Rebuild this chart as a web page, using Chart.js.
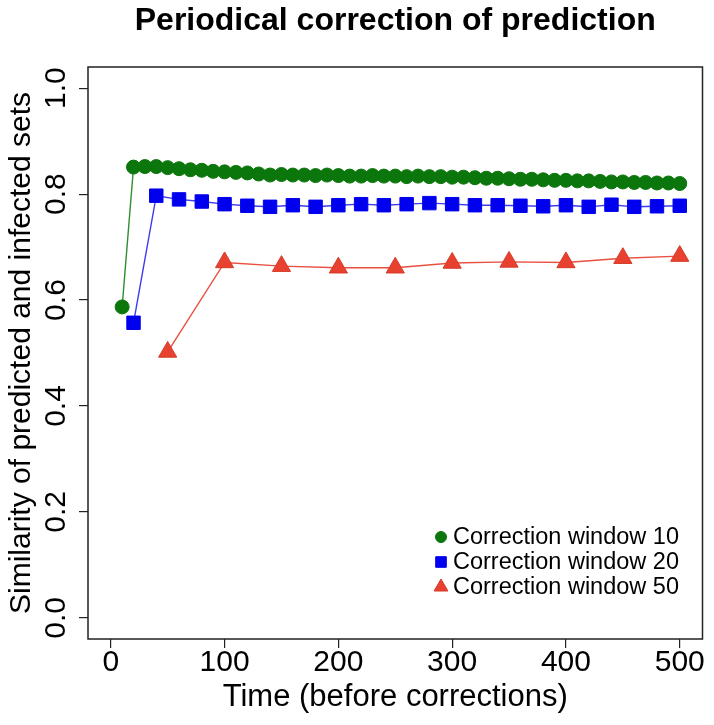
<!DOCTYPE html>
<html>
<head>
<meta charset="utf-8">
<script src="https://cdn.jsdelivr.net/npm/chart.js@4.4.1/dist/chart.umd.min.js"></script>
<style>
  html, body { margin: 0; padding: 0; background: #fff; }
  #chart { display: block; }
</style>
</head>
<body>
<canvas id="chart" width="714" height="725" style="width:714px;height:725px"></canvas>
<script>
// data

const chartTitle = "Periodical correction of prediction";
const seriesLabels = ["Correction window 10", "Correction window 20", "Correction window 50"];

const window10Time = [10, 20, 30, 40, 50, 60, 70, 80, 90, 100,
  110, 120, 130, 140, 150, 160, 170, 180, 190, 200,
  210, 220, 230, 240, 250, 260, 270, 280, 290, 300,
  310, 320, 330, 340, 350, 360, 370, 380, 390, 400,
  410, 420, 430, 440, 450, 460, 470, 480, 490, 500];
const window10Similarity = [0.587, 0.851, 0.852, 0.852, 0.850, 0.848, 0.846, 0.845, 0.843, 0.842,
  0.841, 0.840, 0.838, 0.836, 0.837, 0.836, 0.836, 0.835, 0.836, 0.835,
  0.834, 0.834, 0.835, 0.834, 0.834, 0.833, 0.834, 0.833, 0.833, 0.832,
  0.832, 0.831, 0.830, 0.830, 0.829, 0.828, 0.828, 0.827, 0.826, 0.826,
  0.825, 0.825, 0.824, 0.823, 0.823, 0.822, 0.822, 0.821, 0.821, 0.820];

const window20Time = [20, 40, 60, 80, 100, 120, 140, 160, 180, 200,
  220, 240, 260, 280, 300, 320, 340, 360, 380, 400,
  420, 440, 460, 480, 500];
const window20Similarity = [0.557, 0.797, 0.790, 0.786, 0.781, 0.778, 0.776, 0.779, 0.776, 0.779,
  0.781, 0.779, 0.781, 0.783, 0.781, 0.779, 0.779, 0.778, 0.777, 0.779,
  0.776, 0.780, 0.776, 0.777, 0.778];

const window50Time = [50, 100, 150, 200, 250, 300, 350, 400, 450, 500];
const window50Similarity = [0.502, 0.671, 0.664, 0.661, 0.661, 0.670, 0.672, 0.671, 0.679, 0.683];

const xTickValues = [0, 100, 200, 300, 400, 500];
const yTickValues = [0, 0.2, 0.4, 0.6, 0.8, 1.0];

// helpers

const fontFamily = "'Liberation Sans', Arial, Helvetica, sans-serif";
Chart.defaults.font.family = fontFamily;
Chart.defaults.color = "#000";

function toPoints(xs, ys) {
  return xs.map((x, i) => ({ x: x, y: ys[i] }));
}

// box round the plot, like R's box()
const boxPlugin = {
  id: "plotBox",
  afterDatasetsDraw(chart) {
    const { ctx, chartArea } = chart;
    ctx.save();
    ctx.strokeStyle = "#222";
    ctx.lineWidth = 1.5;
    ctx.strokeRect(chartArea.left, chartArea.top, chartArea.right - chartArea.left, chartArea.bottom - chartArea.top);
    ctx.restore();
  }
};

// legend in the bottom right corner, no frame
const cornerLegend = {
  id: "cornerLegend",
  afterDraw(chart) {
    const ctx = chart.ctx;
    const markerX = 441;
    const textX = 453;
    const firstRow = 537;
    const rowGap = 25;
    const markerSizes = [5.5, 7.5, 8];
    ctx.save();
    ctx.font = "23.5px " + fontFamily;
    ctx.textBaseline = "middle";
    ctx.textAlign = "left";
    chart.data.datasets.forEach((ds, i) => {
      const y = firstRow + i * rowGap;
      ctx.fillStyle = ds.pointBackgroundColor;
      ctx.strokeStyle = ds.pointBorderColor;
      ctx.lineWidth = 1;
      const opts = { pointStyle: ds.pointStyle, radius: markerSizes[i], borderWidth: 1, rotation: 0 };
      if (Chart.helpers && Chart.helpers.drawPoint) {
        Chart.helpers.drawPoint(ctx, opts, markerX, y);
      }
      ctx.fillStyle = "#000";
      ctx.fillText(ds.label, textX, y + 1);
    });
    ctx.restore();
  }
};

function mapChart() {
  const chartHolder = document.getElementById("chart");

  new Chart(chartHolder, {
    type: "line",
    data: {
      datasets: [
        {
          label: seriesLabels[0],
          data: toPoints(window10Time, window10Similarity),
          borderColor: "#2f8f2f",
          borderWidth: 1.4,
          pointStyle: "circle",
          pointRadius: 7,
          pointBackgroundColor: "#0b760b",
          pointBorderColor: "#0b760b",
          pointBorderWidth: 1,
          tension: 0
        },
        {
          label: seriesLabels[1],
          data: toPoints(window20Time, window20Similarity),
          borderColor: "#3b3bf0",
          borderWidth: 1.4,
          pointStyle: "rect",
          pointRadius: 9.5,
          pointBackgroundColor: "#0000ee",
          pointBorderColor: "#0000ee",
          pointBorderWidth: 1,
          tension: 0
        },
        {
          label: seriesLabels[2],
          data: toPoints(window50Time, window50Similarity),
          borderColor: "#e8503f",
          borderWidth: 1.4,
          pointStyle: "triangle",
          pointRadius: 10.5,
          pointBackgroundColor: "#e8412f",
          pointBorderColor: "#d63a28",
          pointBorderWidth: 1,
          tension: 0
        }
      ]
    },
    options: {
      responsive: false,
      animation: false,
      devicePixelRatio: 1,
      layout: { padding: { left: 0, right: 7, top: 0, bottom: 0 } },
      plugins: {
        legend: { display: false },
        tooltip: { enabled: false }
      },
      scales: {
        x: {
          type: "linear",
          min: -20,
          max: 520,
          afterBuildTicks: (scale) => { scale.ticks = xTickValues.map((v) => ({ value: v })); },
          afterFit: (scale) => { scale.height = 86; },
          ticks: {
            autoSkip: false,
            maxRotation: 0,
            padding: -3,
            color: "#000",
            font: { size: 30, lineHeight: 1.2 }
          },
          grid: { drawOnChartArea: false, drawTicks: true, tickLength: 9, color: "#222", lineWidth: 1.2 },
          border: { display: false },
          title: {
            display: true,
            text: "Time (before corrections)",
            color: "#000",
            font: { size: 31, lineHeight: 1 },
            padding: { top: 0, bottom: 12 }
          }
        },
        // top axis only carries the main title, centred over the plot like R's title()
        top: {
          type: "linear",
          position: "top",
          min: -20,
          max: 520,
          afterBuildTicks: (scale) => { scale.ticks = []; },
          afterFit: (scale) => { scale.height = 67; },
          ticks: { display: false },
          grid: { display: false },
          border: { display: false },
          title: {
            display: true,
            text: chartTitle,
            color: "#000",
            font: { size: 32, weight: "bold", lineHeight: 1 },
            padding: { top: 5, bottom: 0 }
          }
        },
        y: {
          type: "linear",
          min: -0.04,
          max: 1.04,
          afterBuildTicks: (scale) => { scale.ticks = yTickValues.map((v) => ({ value: v })); },
          afterFit: (scale) => { scale.width = 88; },
          ticks: {
            minRotation: 90,
            maxRotation: 90,
            crossAlign: "center",
            padding: 1,
            color: "#000",
            font: { size: 30, lineHeight: 1.2 },
            callback: (v) => Number(v).toFixed(1)
          },
          grid: { drawOnChartArea: false, drawTicks: true, tickLength: 9, color: "#222", lineWidth: 1.2 },
          border: { display: false },
          title: {
            display: true,
            text: "Similarity of predicted and infected sets",
            color: "#000",
            font: { size: 30, lineHeight: 1 },
            padding: { top: 7, bottom: 0 }
          }
        }
      }
    },
    plugins: [boxPlugin, cornerLegend]
  });
}

window.addEventListener("DOMContentLoaded", () => {
  mapChart();
});
</script>
</body>
</html>
